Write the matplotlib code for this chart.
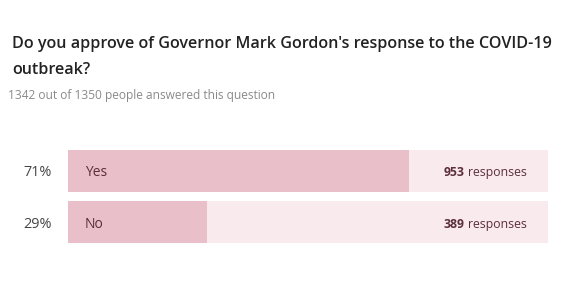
import matplotlib
matplotlib.use("Agg")
import matplotlib.pyplot as plt

title = "Do you approve of Governor Mark Gordon's response to the COVID-19\noutbreak?"
subtitle = "1342 out of 1350 people answered this question"
options = ["Yes", "No"]
counts = [953, 389]
percents = ["71%", "29%"]
answered = 1342

W, H = 566, 301
fig = plt.figure(figsize=(W/100, H/100), dpi=100)
fig.patch.set_facecolor("white")
plt.rcParams['font.family'] = ['Open Sans', 'DejaVu Sans']

def fx(px): return px / W
def fy(py): return 1 - py / H

fig.text(fx(12), fy(57), title, fontsize=11.6, fontweight='semibold', color='#222222',
         va='center', ha='left', linespacing=1.85)
fig.text(fx(8), fy(96), subtitle, fontsize=8.6, color='#8a8a8a', va='center', ha='left')

# bars axes: track from x=68..548, y=150..243
ax = fig.add_axes([fx(68), fy(243), fx(548) - fx(68), fy(150) - fy(243)])
ax.set_xlim(0, answered)
n = len(options)
ax.set_ylim(n - 1 + 0.41, -0.41)
ax.axis('off')
ypos = list(range(n))
h = 42 / 51
ax.barh(ypos, [answered] * n, height=h, color='#f9eaee', edgecolor='none')
ax.barh(ypos, counts, height=h, color='#e9bfc9', edgecolor='none')

fig.canvas.draw()
r = fig.canvas.get_renderer()
for i, (opt, c, p) in enumerate(zip(options, counts, percents)):
    fig_y = ax.transData.transform((0, i))[1] / H - 2 / H
    ax.text(answered * 17 / 480, i + 0.04, opt, fontsize=10, color='#5c2e3c', va='center', ha='left')
    fig.text(fx(52), fig_y, p, fontsize=10.4, color='#444444', va='center', ha='right')
    t = fig.text(fx(527), fig_y, "responses", fontsize=8.8, color='#5c2e3c', va='center', ha='right')
    bb = t.get_window_extent(r)
    fig.text((bb.x0 - 4) / W, fig_y, str(c), fontsize=8.8, fontweight='bold', color='#5c2e3c',
             va='center', ha='right')

fig.savefig("out.png", dpi=100, facecolor='white')
